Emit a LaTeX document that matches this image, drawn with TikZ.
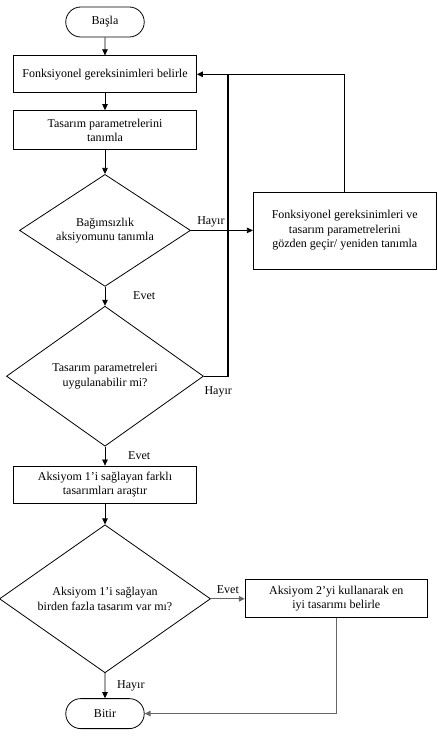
\documentclass[tikz,border=0pt]{standalone}
\usepackage{fontspec}
\setmainfont{Liberation Serif}
\usetikzlibrary{arrows.meta}
\usetikzlibrary{positioning}
\usetikzlibrary{shapes.misc}
\usetikzlibrary{shapes.geometric}
\tikzset {
  flow path/.style = {
    draw = black,
    line width = 0.7pt
  },
  % path style with an arrow at its end
  arr/.style = {
    flow path,
    -{Triangle[length=6pt,width=5.5pt]}
  },
  % path style with no arrow
  narr/.style = {
    flow path
  },
  % heavier lines of the loops
  back/.style = {
    line width = 1.3pt
  },
  faint/.style = {
    draw = black!60
  }
}
\tikzset {
  flow node/.style = {
    draw = black,
    line width = 0.8pt,
    align = center,
    inner sep = 0.15cm,
    font = \fontsize{12}{14.3}\selectfont
  },
  % start and end
  terminal/.style = {
    flow node,
    rounded rectangle,
    minimum width = 87pt,
    minimum height = 30pt
  },
  % action box
  process/.style = {
    flow node,
    rectangle,
    minimum width = 183pt,
    minimum height = 37pt
  },
  % question
  decision/.style = {
    flow node,
    diamond,
    aspect = 1.5,
    inner sep = 0
  },
  % yes / no label
  answer/.style = {
    font = \fontsize{12}{14.3}\selectfont,
    inner sep = 3pt
  },
  node distance = 18pt
}

\begin{document}
\begin{tikzpicture}
    \useasboundingbox (-105pt,22pt) rectangle (333pt,-724pt);

    \node[terminal] (start) at (0,0) {Başla};
    \node[process] (needs) [below=18pt of start] {Fonksiyonel gereksinimleri belirle};
    \node[process, minimum height=39pt] (params) [below=17pt of needs] {Tasarım parametrelerini\\tanımla};
    \node[decision, minimum width=171pt, minimum height=112pt] (indep) [below=24pt of params] {Bağımsızlık\\aksiyomunu tanımla};
    \node[decision, minimum width=197pt, minimum height=140pt] (feasible) [below=19pt of indep] {Tasarım parametreleri\\uygulanabilir mi?};
    \node[process] (search) [below=19pt of feasible] {Aksiyom 1’i sağlayan farklı\\tasarımları araştır};
    \node[decision, minimum width=211pt, minimum height=148pt] (multi) [below=21pt of search] {Aksiyom 1’i sağlayan\\birden fazla tasarım var mı?};
    \node[terminal] (stop) [below=25pt of multi] {Bitir};
    \node[process, minimum height=77pt] (review) [right=62pt of indep] {Fonksiyonel gereksinimleri ve\\tasarım parametrelerini\\gözden geçir/ yeniden tanımla};
    \node[process, minimum width=182pt, minimum height=38pt] (best) [right=34pt of multi] {Aksiyom 2’yi kullanarak en\\iyi tasarımı belirle};
    \coordinate[right=31pt of needs.east] (join);

    % answers beside the downward arrows
    \node[answer, anchor=west] (yes1) at ([xshift=25pt, yshift=10pt]feasible.north) {Evet};
    \node[answer, anchor=west] (yes2) at ([xshift=20pt, yshift=10pt]search.north) {Evet};
    \node[answer, anchor=west] (no3) at ([xshift=9pt, yshift=12.5pt]stop.north) {Hayır};

    \draw[arr] (start) -- (needs);
    \draw[arr] (needs) -- (params);
    \draw[arr] (params) -- (indep);
    \draw[arr] (indep) -- (feasible);
    \draw[arr] (feasible) -- (search);
    \draw[arr] (search) -- (multi);
    \draw[arr] (multi) -- (stop);

    \draw[arr] (indep.east) node[answer, anchor=south west, xshift=3pt] (no1) {Hayır} -- (review.west);
    \draw[arr, back] (review.north) |- (needs.east);
    \draw[narr, back] (feasible.east) node[answer, anchor=north west, xshift=-3pt, yshift=-7pt] (no2) {Hayır} -| (join);

    \draw[arr, back, faint] (multi) -- node[answer, above=2pt] (yes3) {Evet} (best);
    \draw[arr, back, faint] (best.south) |- (stop.east);
\end{tikzpicture}
\end{document}
